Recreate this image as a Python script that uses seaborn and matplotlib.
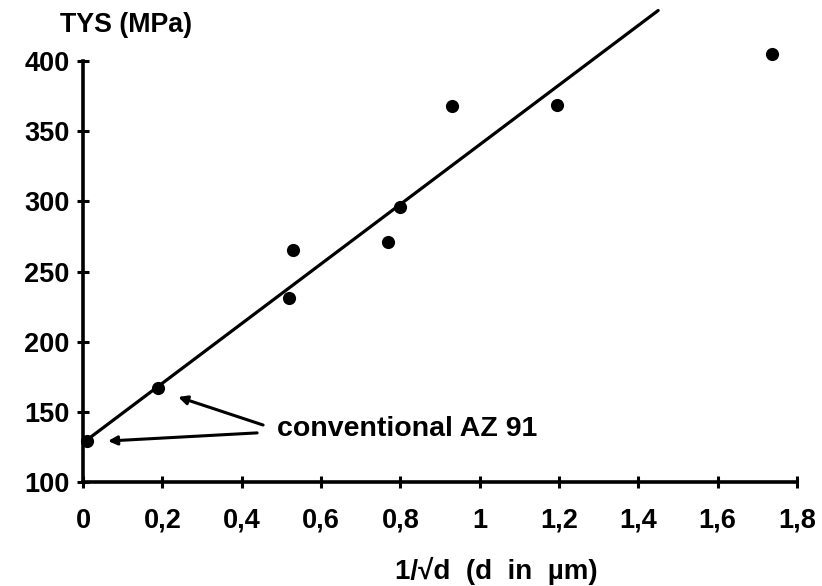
import matplotlib
matplotlib.use("Agg")
import matplotlib.pyplot as plt
import seaborn as sns
import pandas as pd

# data
inv_sqrt_d = [0.01, 0.19, 0.52, 0.53, 0.77, 0.80, 0.93, 1.195, 1.737]
tys = [129, 167, 231, 265, 271, 296, 368, 369, 405]
fit_x = [0.01, 1.45]
fit_y = [130, 436]
x_ticks = [0, 0.2, 0.4, 0.6, 0.8, 1.0, 1.2, 1.4, 1.6, 1.8]
x_tick_labels = ["0", "0,2", "0,4", "0,6", "0,8", "1", "1,2", "1,4", "1,6", "1,8"]
y_ticks = [100, 150, 200, 250, 300, 350, 400]

pts = pd.DataFrame({"x": inv_sqrt_d, "y": tys})
fit = pd.DataFrame({"x": fit_x, "y": fit_y})

sns.set_theme(style="ticks")
plt.rcParams["font.family"] = ["Liberation Sans", "DejaVu Sans"]

fig = plt.figure(figsize=(8.22, 5.86), dpi=100)
W, H = 822, 586
ax = fig.add_axes([83 / W, 1 - 482 / H, (797 - 83) / W, 482 / H])

sns.lineplot(data=fit, x="x", y="y", ax=ax, color="black", linewidth=2.3)
sns.scatterplot(data=pts, x="x", y="y", ax=ax, color="black", s=90,
                edgecolor="black", linewidth=0, zorder=3, clip_on=False)

ax.set_xlim(0, 1.8)
ax.set_ylim(100, 100 + 482 / 1.4033)
for s in ["top", "right"]:
    ax.spines[s].set_visible(False)
ax.spines["left"].set_bounds(100, 400)
ax.spines["bottom"].set_bounds(0, 1.8)
for s in ["left", "bottom"]:
    ax.spines[s].set_linewidth(2.6)
    ax.spines[s].set_color("black")

ax.set_xticks(x_ticks)
ax.set_xticklabels(x_tick_labels)
ax.set_yticks(y_ticks)
ax.tick_params(axis="both", direction="inout", length=9, width=2.2,
               color="black", labelsize=19.5, labelcolor="black")
ax.tick_params(axis="y", pad=5)
ax.tick_params(axis="x", pad=14)
for lab in ax.get_xticklabels() + ax.get_yticklabels():
    lab.set_fontweight("bold")

ax.set_xlabel("1/\u221ad  (d  in  \u00b5m)", fontsize=20, fontweight="bold", color="black")
ax.set_ylabel("")
ax.xaxis.set_label_coords(0.579, -0.155)

fig.text(60 / W, 1 - 25 / H, "TYS (MPa)", fontsize=19.3, fontweight="bold",
         va="center", ha="left", color="black")

ax.text(0.489, 137.5, "conventional AZ 91", fontsize=20.5, fontweight="bold",
        va="center", ha="left", color="black")
ax.annotate("", xy=(0.24, 160.6), xytext=(0.454, 140.6),
            arrowprops=dict(arrowstyle="-|>", color="black", lw=2.2,
                            mutation_scale=13, shrinkA=0, shrinkB=0))
ax.annotate("", xy=(0.063, 129.2), xytext=(0.439, 135.0),
            arrowprops=dict(arrowstyle="-|>", color="black", lw=2.2,
                            mutation_scale=13, shrinkA=0, shrinkB=0))

fig.savefig("out.png", dpi=100)
